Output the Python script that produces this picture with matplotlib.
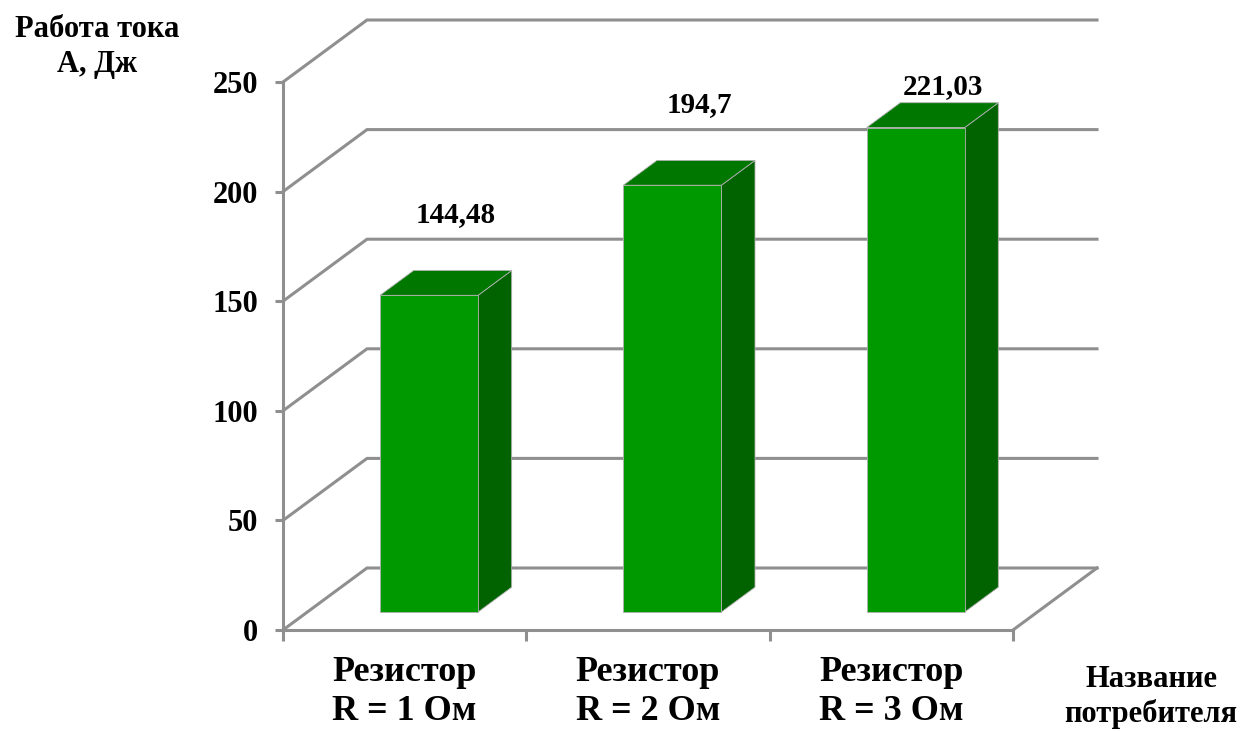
import matplotlib
matplotlib.use("Agg")
import matplotlib.pyplot as plt
from matplotlib.patches import Polygon

plt.rcParams['font.family'] = ['Liberation Serif', 'DejaVu Serif']
plt.rcParams['font.weight'] = 'bold'

# Data
categories = ["Резистор\nR = 1 Ом", "Резистор\nR = 2 Ом", "Резистор\nR = 3 Ом"]
values = [144.48, 194.7, 221.03]
value_labels = ["144,48", "194,7", "221,03"]
y_ticks = [0, 50, 100, 150, 200, 250]
y_title = "Работа тока\nА, Дж"
x_title = "Название\nпотребителя"

# Colours
grid_col = "#8f8f8f"
face_front = "#009a00"
face_top = "#007800"
face_side = "#006300"

W, H = 1244, 731
fig = plt.figure(figsize=(W / 100, H / 100), dpi=100)
# front plane of the plot area in pixels
x0, x1, y0, y1 = 283, 1013, 630, 82
ax = fig.add_axes([x0 / W, (H - y0) / H, (x1 - x0) / W, (y0 - y1) / H])
ncat = len(categories)
ymax = 250
ax.set_xlim(0, ncat)
ax.set_ylim(0, ymax)
ax.patch.set_visible(False)

# depth vector of the 3-D box, in data units
px_x = (x1 - x0) / ncat
px_y = (y0 - y1) / ymax
DX = 84 / px_x
DY = 62 / px_y

# back wall gridlines and left wall diagonals
for yv in y_ticks:
    ax.plot([0, DX, ncat + DX], [yv, yv + DY, yv + DY], color=grid_col,
            lw=2.2, clip_on=False, zorder=1, solid_joinstyle='miter')
# right floor edge
ax.plot([ncat, ncat + DX], [0, DY], color=grid_col, lw=2.2, clip_on=False, zorder=1)

# bars as 3-D boxes
t0, t1 = 0.29, 0.69
bw = 0.403
for i, v in enumerate(values):
    c = i + 0.5
    xl, xr = c - bw / 2, c + bw / 2
    fx, fy = t0 * DX, t0 * DY
    bx, by = t1 * DX, t1 * DY
    front = Polygon([(xl + fx, fy), (xr + fx, fy), (xr + fx, v + fy), (xl + fx, v + fy)],
                    closed=True, facecolor=face_front, edgecolor="#b0b0b0", lw=0.6,
                    clip_on=False, zorder=3)
    top = Polygon([(xl + fx, v + fy), (xr + fx, v + fy), (xr + bx, v + by), (xl + bx, v + by)],
                  closed=True, facecolor=face_top, edgecolor="#b0b0b0", lw=0.6,
                  clip_on=False, zorder=3)
    side = Polygon([(xr + fx, fy), (xr + bx, by), (xr + bx, v + by), (xr + fx, v + fy)],
                   closed=True, facecolor=face_side, edgecolor="#b0b0b0", lw=0.6,
                   clip_on=False, zorder=3)
    for p in (side, top, front):
        ax.add_patch(p)
    label_y = min(v + 45, 248)
    ax.text(c + 0.61 * DX, label_y, value_labels[i], ha='center', va='center',
            fontsize=21, fontweight='bold', zorder=5)

# axes styling
for s in ('top', 'right'):
    ax.spines[s].set_visible(False)
for s in ('left', 'bottom'):
    ax.spines[s].set_color(grid_col)
    ax.spines[s].set_linewidth(2.2)
    ax.spines[s].set_zorder(2)
ax.set_yticks(y_ticks)
ax.set_yticklabels([str(t) for t in y_ticks])
ax.tick_params(axis='y', direction='out', length=6, width=2.2, color=grid_col,
               pad=12, labelsize=22)
ax.set_xticks(range(ncat + 1))
ax.set_xticklabels([''] * (ncat + 1))
ax.set_xticks([i + 0.5 for i in range(ncat)], minor=True)
ax.set_xticklabels(categories, minor=True, fontsize=26, fontweight='bold',
                   linespacing=1.24)
ax.tick_params(axis='x', which='major', direction='out', length=8, width=2.2,
               color=grid_col)
ax.tick_params(axis='x', which='minor', length=0, pad=19)
for lab in ax.get_yticklabels():
    lab.set_fontweight('bold')

# axis titles
fig.text(97 / W, 1 - 47 / H, y_title, ha='center', va='center', fontsize=22,
         fontweight='bold', linespacing=1.25)
fig.text(1151 / W, 1 - 697 / H, x_title, ha='center', va='center', fontsize=22,
         fontweight='bold', linespacing=1.25)

fig.savefig("out.png", dpi=100)
